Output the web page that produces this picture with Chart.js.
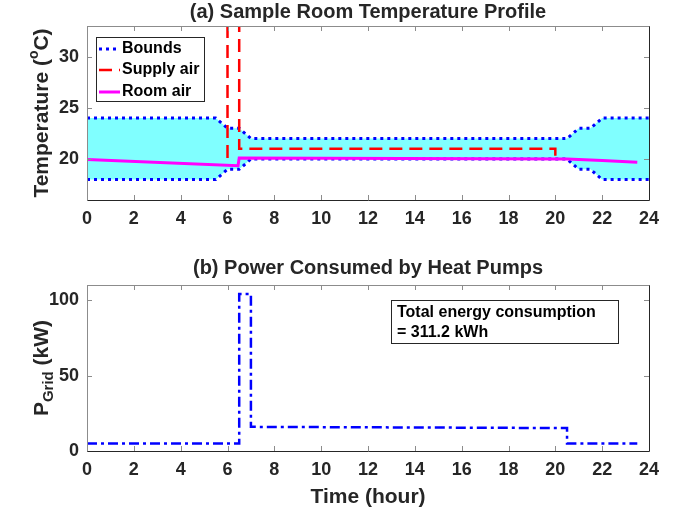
<!DOCTYPE html>
<html><head><meta charset="utf-8">
<script src="https://cdn.jsdelivr.net/npm/chart.js@4.4.1/dist/chart.umd.min.js"></script>
<style>
html,body{margin:0;padding:0;background:#fff;}
#wrap{position:relative;width:676px;height:514px;overflow:hidden;}
canvas{position:absolute;left:0;}
</style></head><body>
<div id="wrap">
<canvas id="c1" width="676" height="257" style="top:0"></canvas>
<canvas id="c2" width="676" height="257" style="top:257px"></canvas>
</div>
<script>
// ---------- data ----------
const hourTicks = [0, 2, 4, 6, 8, 10, 12, 14, 16, 18, 20, 22, 24];
const tempTicks = [20, 25, 30];
const powerTicks = [0, 50, 100];

const boundTime = [0, 5.5, 6, 6.5, 7, 20.5, 21, 21.5, 22, 24];
const upperBound = [24, 24, 23, 23, 22, 22, 23, 23, 24, 24];
const lowerBound = [18, 18, 19, 19, 20, 20, 19, 19, 18, 18];

const supplyTime = [6, 6, 6.5, 6.5, 20, 20];
const supplyTemp = [20.1, 40, 40, 21, 21, 20.1];

const roomTime = [0, 6.45, 6.5, 20.5, 22, 23.5];
const roomTemp = [19.95, 19.35, 20.1, 20.0, 19.85, 19.7];

const powerTime = [0, 6.5, 6.5, 7, 7, 20.5, 20.5, 23.5];
const powerKW = [5, 5, 104, 104, 16, 15.2, 5, 5];

const legendLabels = ['Bounds', 'Supply air', 'Room air'];
const energyText = ['Total energy consumption', '= 311.2 kWh'];

// ---------- helpers ----------
const FONT = '"Liberation Sans", Arial, sans-serif';
const INK = '#262626';
const pts = (xs, ys) => xs.map((x, i) => ({x: x, y: ys[i]}));

function richText(ctx, segs, cx, cy, rotate) {
  ctx.save();
  ctx.translate(cx, cy);
  if (rotate) ctx.rotate(-Math.PI / 2);
  let total = 0;
  segs.forEach(s => { ctx.font = 'bold ' + s.s + 'px ' + FONT; s.w = ctx.measureText(s.t).width; total += s.w; });
  let x = -total / 2;
  ctx.fillStyle = INK;
  ctx.textBaseline = 'middle';
  ctx.textAlign = 'left';
  segs.forEach(s => { ctx.font = 'bold ' + s.s + 'px ' + FONT; ctx.fillText(s.t, x, s.dy || 0); x += s.w; });
  ctx.restore();
}

function framePlugin(cfg) {
  return {
    id: 'frame_' + cfg.name,
    afterDatasetsDraw(chart) {
      const ctx = chart.ctx, a = chart.chartArea, sx = chart.scales.x, sy = chart.scales.y;
      ctx.save();
      ctx.lineWidth = 1;
      ctx.strokeStyle = '#8c8c8c';
      const L = 5;
      ctx.beginPath();
      sx.ticks.forEach(t => {
        const p = Math.round(sx.getPixelForValue(t.value)) + 0.5;
        ctx.moveTo(p, a.bottom); ctx.lineTo(p, a.bottom - L);
        ctx.moveTo(p, a.top); ctx.lineTo(p, a.top + L);
      });
      sy.ticks.forEach(t => {
        const p = Math.round(sy.getPixelForValue(t.value)) + 0.5;
        ctx.moveTo(a.left, p); ctx.lineTo(a.left + L, p);
        ctx.moveTo(a.right, p); ctx.lineTo(a.right - L, p);
      });
      ctx.stroke();
      const l = Math.round(a.left) + 0.5, r = Math.round(a.right) + 0.5, t = Math.round(a.top) + 0.5, b = Math.round(a.bottom) + 0.5;
      ctx.strokeStyle = '#8c8c8c';
      ctx.beginPath(); ctx.moveTo(l, b); ctx.lineTo(l, t); ctx.lineTo(r, t); ctx.stroke();
      ctx.strokeStyle = INK;
      ctx.beginPath(); ctx.moveTo(l, b); ctx.lineTo(r, b); ctx.lineTo(r, t); ctx.stroke();
      ctx.fillStyle = INK;
      ctx.font = 'bold 20px ' + FONT;
      ctx.textAlign = 'center';
      ctx.textBaseline = 'middle';
      ctx.fillText(cfg.title, (a.left + a.right) / 2, cfg.titleY);
      richText(ctx, cfg.yTitle, 42, (a.top + a.bottom) / 2, true);
      if (cfg.xTitle) richText(ctx, cfg.xTitle, (a.left + a.right) / 2, cfg.xTitleY, false);
      if (cfg.extra) cfg.extra(ctx, a);
      ctx.restore();
    }
  };
}

function scaleX(h) {
  return {
    type: 'linear', min: 0, max: 24,
    grid: {display: false, drawTicks: false}, border: {display: false},
    afterBuildTicks: s => { s.ticks = hourTicks.map(v => ({value: v})); },
    afterFit: s => { s.height = h; },
    ticks: {color: INK, font: {family: FONT, size: 18, weight: 'bold'}, padding: 8, maxRotation: 0, autoSkip: false}
  };
}
function scaleY(min, max, tickArr) {
  return {
    type: 'linear', min: min, max: max,
    grid: {display: false, drawTicks: false}, border: {display: false},
    afterBuildTicks: s => { s.ticks = tickArr.map(v => ({value: v})); },
    afterFit: s => { s.width = 87; },
    ticks: {color: INK, font: {family: FONT, size: 18, weight: 'bold'}, padding: 8}
  };
}

const common = {
  responsive: false, animation: false, maintainAspectRatio: false,
  plugins: {legend: {display: false}, tooltip: {enabled: false}, filler: {drawTime: 'beforeDatasetsDraw'}},
  elements: {point: {radius: 0}, line: {tension: 0}}
};

// ---------- chart (a) ----------
new Chart(document.getElementById('c1'), {
  type: 'line',
  data: {datasets: [
    {label: 'Upper bound', data: pts(boundTime, upperBound), borderColor: '#0000ff', borderWidth: 3, borderDash: [3, 4],
     backgroundColor: 'rgb(128,255,255)', fill: '+1', order: 4},
    {label: 'Lower bound', data: pts(boundTime, lowerBound), borderColor: '#0000ff', borderWidth: 3, borderDash: [3, 4], fill: false, order: 3},
    {label: 'Supply air', data: pts(supplyTime, supplyTemp), borderColor: '#ff0000', borderWidth: 2.5, borderDash: [13, 7], fill: false, order: 2},
    {label: 'Room air', data: pts(roomTime, roomTemp), borderColor: '#ff00ff', borderWidth: 3, fill: false, order: 1}
  ]},
  options: Object.assign({}, common, {
    layout: {padding: {top: 26, right: 27, left: 0, bottom: 0}},
    scales: {x: scaleX(57), y: scaleY(16, 33, tempTicks)}
  }),
  plugins: [framePlugin({
    name: 'a', title: '(a) Sample Room Temperature Profile', titleY: 12,
    yTitle: [{t: 'Temperature (', s: 21}, {t: 'o', s: 14, dy: -8}, {t: 'C)', s: 21}],
    extra: (ctx, a) => {
      const bx = 96.5, by = 37.5, bw = 108, bh = 64;
      ctx.fillStyle = '#fff';
      ctx.fillRect(bx, by, bw, bh);
      ctx.strokeStyle = INK; ctx.lineWidth = 1;
      ctx.strokeRect(bx, by, bw, bh);
      const styles = [
        {c: '#0000ff', w: 3, d: [3, 4]},
        {c: '#ff0000', w: 2.5, d: [13, 7]},
        {c: '#ff00ff', w: 3, d: []}
      ];
      const ys = [49, 70, 92];
      ctx.font = 'bold 16px ' + FONT;
      ctx.textAlign = 'left'; ctx.textBaseline = 'middle';
      legendLabels.forEach((lab, i) => {
        ctx.save();
        ctx.strokeStyle = styles[i].c; ctx.lineWidth = styles[i].w; ctx.setLineDash(styles[i].d);
        ctx.beginPath(); ctx.moveTo(99, ys[i]); ctx.lineTo(120, ys[i]); ctx.stroke();
        ctx.restore();
        ctx.fillStyle = '#000';
        ctx.fillText(lab, 122, ys[i]);
      });
    }
  })]
});

// ---------- chart (b) ----------
new Chart(document.getElementById('c2'), {
  type: 'line',
  data: {datasets: [
    {label: 'P_Grid', data: pts(powerTime, powerKW), borderColor: '#0000ff', borderWidth: 2.5, borderDash: [10, 4, 3, 4], fill: false}
  ]},
  options: Object.assign({}, common, {
    layout: {padding: {top: 28, right: 27, left: 0, bottom: 0}},
    scales: {x: scaleX(63), y: scaleY(0, 110, powerTicks)}
  }),
  plugins: [framePlugin({
    name: 'b', title: '(b) Power Consumed by Heat Pumps', titleY: 11,
    yTitle: [{t: 'P', s: 21}, {t: 'Grid', s: 15, dy: 7}, {t: ' (kW)', s: 21}],
    xTitle: [{t: 'Time (hour)', s: 21}], xTitleY: 240,
    extra: (ctx, a) => {
      const bx = 391.5, by = 43.5, bw = 227, bh = 43;
      ctx.fillStyle = '#fff';
      ctx.fillRect(bx, by, bw, bh);
      ctx.strokeStyle = INK; ctx.lineWidth = 1;
      ctx.strokeRect(bx, by, bw, bh);
      ctx.fillStyle = '#000';
      ctx.font = 'bold 16px ' + FONT;
      ctx.textAlign = 'left'; ctx.textBaseline = 'middle';
      ctx.fillText(energyText[0], 397, 56);
      ctx.fillText(energyText[1], 397, 76);
    }
  })]
});
</script>
</body></html>
